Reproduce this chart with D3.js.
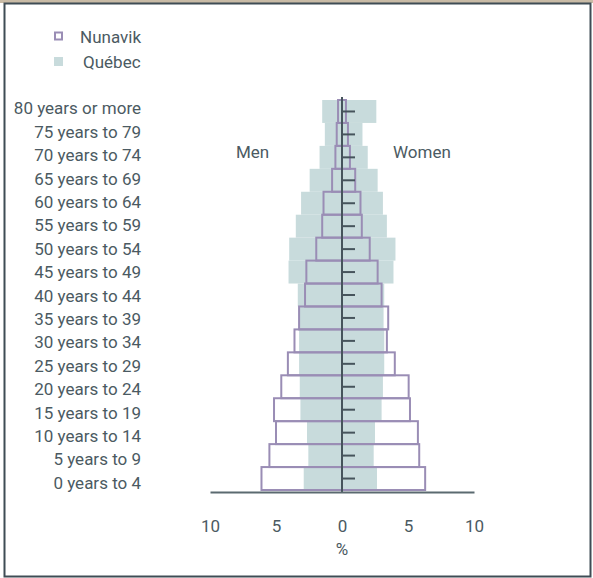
<!DOCTYPE html>
<html><head><meta charset="utf-8">
<script src="https://cdn.jsdelivr.net/npm/d3@7"></script>
<style>body{margin:0;background:#fff}svg{display:block}text{font-family:Roboto,sans-serif;fill:#4b5a62}</style>
</head><body>
<script>
const ageGroups = ["80 years or more","75 years to 79","70 years to 74","65 years to 69","60 years to 64","55 years to 59","50 years to 54","45 years to 49","40 years to 44","35 years to 39","30 years to 34","25 years to 29","20 years to 24","15 years to 19","10 years to 14","5 years to 9","0 years to 4"];
const nunavikMen   = [0.3,0.4,0.5,0.75,1.4,1.5,1.95,2.7,2.8,3.25,3.6,4.1,4.6,5.15,5.0,5.5,6.1];
const nunavikWomen = [0.3,0.45,0.6,1.0,1.4,1.5,2.1,2.7,3.0,3.5,3.4,4.0,5.05,5.15,5.75,5.85,6.3];
const quebecMen    = [1.5,1.3,1.7,2.45,3.1,3.5,4.0,4.05,3.35,3.3,3.25,3.25,3.2,3.15,2.65,2.55,2.9];
const quebecWomen  = [2.6,1.55,1.95,2.7,3.1,3.4,4.05,3.9,3.2,3.15,3.2,3.2,3.1,3.0,2.5,2.4,2.65];
const xTicks = [-10,-5,0,5,10];
const seriesNames = ["Nunavik","Québec"];

const W=593,H=578;
const svg=d3.select("body").append("svg").attr("width",W).attr("height",H);
// frame
svg.append("rect").attr("x",0).attr("y",0).attr("width",W).attr("height",3).attr("fill","#c9bba6");
svg.append("rect").attr("x",4.5).attr("y",3.5).attr("width",586).attr("height",573).attr("fill","none").attr("stroke","#3f4c55").attr("stroke-width",2);

const x=d3.scaleLinear().domain([-10,10]).range([210,474]);
const y=d3.scaleBand().domain(ageGroups).range([100,490]).padding(0);
const yl=d3.scalePoint().domain(ageGroups).range([108.3,482.7]);
const purple="#9a8db5", qfill="#c8dbdc", dark="#46545c";

const rows=ageGroups.map((a,i)=>({a,nm:nunavikMen[i],nw:nunavikWomen[i],qm:quebecMen[i],qw:quebecWomen[i]}));
const g=svg.append("g");
// Quebec fill
g.selectAll(".qm").data(rows).join("rect").attr("x",d=>x(-d.qm)).attr("width",d=>x(0)-x(-d.qm))
 .attr("y",d=>y(d.a)).attr("height",y.bandwidth()).attr("fill",qfill);
g.selectAll(".qw").data(rows).join("rect").attr("x",x(0)).attr("width",d=>x(d.qw)-x(0))
 .attr("y",d=>y(d.a)).attr("height",y.bandwidth()).attr("fill",qfill);
// Nunavik outline
g.selectAll(".nm").data(rows).join("rect").attr("x",d=>x(-d.nm)).attr("width",d=>x(0)-x(-d.nm))
 .attr("y",d=>y(d.a)).attr("height",y.bandwidth()).attr("fill","none").attr("stroke",purple).attr("stroke-width",2);
g.selectAll(".nw").data(rows).join("rect").attr("x",x(0)).attr("width",d=>x(d.nw)-x(0))
 .attr("y",d=>y(d.a)).attr("height",y.bandwidth()).attr("fill","none").attr("stroke",purple).attr("stroke-width",2);

// center axis with ticks
const yAxis=d3.axisRight(y).tickSize(13).tickFormat("");
const ya=svg.append("g").attr("transform",`translate(${x(0)},0)`).call(yAxis);
ya.select(".domain").attr("stroke",dark).attr("stroke-width",2).attr("d",`M0,97V492`);
ya.selectAll(".tick line").attr("stroke",dark).attr("stroke-width",2);

// bottom axis
const xa=svg.append("g").attr("transform","translate(0,492)").call(d3.axisBottom(x).tickValues(xTicks).tickSize(0).tickPadding(0).tickFormat(d=>Math.abs(d)));
xa.select(".domain").attr("stroke","#5b6a70").attr("stroke-width",2);
xa.selectAll(".tick text").attr("y",39.5).attr("dy",null).style("font-size","17px").attr("fill","#4b5a62");
svg.append("text").attr("x",x(0)).attr("y",555).attr("text-anchor","middle").style("font-size","17px").text("%");

// age labels
svg.selectAll(".age").data(ageGroups).join("text").attr("x",141).attr("y",d=>yl(d)+6)
 .attr("text-anchor","end").style("font-size","17px").text(d=>d);

svg.append("text").attr("x",236).attr("y",158).style("font-size","17px").text("Men");
svg.append("text").attr("x",393).attr("y",158).style("font-size","17px").text("Women");

// legend
svg.append("rect").attr("x",55).attr("y",32.5).attr("width",7).attr("height",7).attr("fill","none").attr("stroke",purple).attr("stroke-width",2);
svg.append("text").attr("x",80).attr("y",43).style("font-size","17px").text(seriesNames[0]);
svg.append("rect").attr("x",54).attr("y",57).attr("width",9).attr("height",9).attr("fill",qfill);
svg.append("text").attr("x",83).attr("y",68).style("font-size","17px").text(seriesNames[1]);
</script>
</body></html>
